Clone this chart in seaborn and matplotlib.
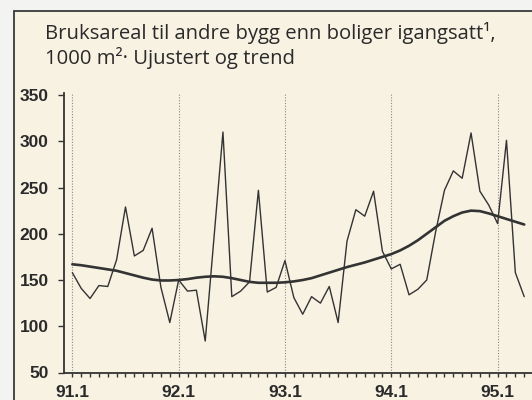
import numpy as np
import pandas as pd
import matplotlib
matplotlib.use("Agg")
import matplotlib.pyplot as plt
from matplotlib.patches import Rectangle
import seaborn as sns

# Monthly data, 91.1 .. 95.4 (1000 m2)
unadjusted = [158, 141, 130, 144, 143, 172, 229, 176, 182, 206, 142, 104,
              150, 138, 139, 84, 197, 310, 132, 138, 148, 247, 137, 142,
              171, 131, 113, 132, 125, 143, 104, 192, 226, 219, 246, 181,
              162, 167, 134, 140, 150, 202, 247, 268, 260, 309, 246, 231,
              211, 301, 158, 132]
trend = [167, 166, 164.5, 163, 161.5, 160, 157.5, 155, 152.5, 150.5, 149.5, 149.5,
         150, 151, 152.5, 153.5, 154, 153.5, 152, 150, 148, 147, 147, 147,
         147.5, 148.5, 150, 152, 155, 158, 161, 164, 166.5, 169, 172, 175,
         178, 182, 187, 193, 200, 207, 214, 219, 223, 225, 224.5, 222,
         219, 216, 213, 210]
year_labels = ["91.1", "92.1", "93.1", "94.1", "95.1"]
y_ticks = [50, 100, 150, 200, 250, 300, 350]

df = pd.DataFrame({"month": np.arange(len(unadjusted)),
                   "Ujustert": unadjusted, "Trend": trend})

sns.set_style("white")
plt.rcParams['font.family'] = ['Liberation Sans', 'DejaVu Sans']

W, H = 532, 400
fig = plt.figure(figsize=(W / 100, H / 100), dpi=100)
fig.patch.set_facecolor("#f3f3f1")

# outer frame of the figure box
frame = Rectangle((14 / W, -0.1), 1.2, (H - 11) / H + 0.1, transform=fig.transFigure,
                  facecolor="#f8f2e3", edgecolor="#3a3a3a", linewidth=1.3, zorder=-10)
fig.patches.append(frame)

ax = fig.add_axes([64 / W, (H - 372.5) / H, (W - 64) / W, (372.5 - 93) / H])
ax.set_facecolor("none")
ax.set_zorder(5)

line_col = "#333333"
sns.lineplot(data=df, x="month", y="Ujustert", ax=ax, color=line_col, linewidth=1.0)
sns.lineplot(data=df, x="month", y="Trend", ax=ax, color=line_col, linewidth=1.9)

for k in range(len(year_labels)):
    ax.axvline(12 * k, color="#8a8a8a", linestyle=(0, (1, 1.5)), linewidth=0.8, zorder=0)

ax.set_xlim(-0.94, 51.88)
ax.set_ylim(50, 352.2)
ax.set_xticks([12 * k for k in range(len(year_labels))])
ax.set_xticklabels(year_labels)
ax.set_xticks(np.arange(0, 52), minor=True)
ax.set_yticks(y_ticks)
ax.set_yticklabels([str(v) for v in y_ticks])
ax.set_xlabel("")
ax.set_ylabel("")

for s in ["top", "right"]:
    ax.spines[s].set_visible(False)
for s in ["left", "bottom"]:
    ax.spines[s].set_color(line_col)
    ax.spines[s].set_linewidth(1.3)

ax.tick_params(axis="x", which="both", direction="out", length=3, width=1.0,
               color=line_col, bottom=True)
ax.tick_params(axis="x", which="major", labelsize=12.5, pad=6, labelcolor="#2a2a2a")
ax.tick_params(axis="y", which="major", direction="out", length=4, width=1.0,
               color=line_col, left=True, labelsize=12.5, pad=7, labelcolor="#2a2a2a")
for lab in ax.get_xticklabels() + ax.get_yticklabels():
    lab.set_fontweight("bold")

fig.text(45 / W, 1 - 39 / H, "Bruksareal til andre bygg enn boliger igangsatt¹,",
         fontsize=14.6, family=["Open Sans", "DejaVu Sans"], color="#2a2a2a")
fig.text(45 / W, 1 - 64 / H, "1000 m²· Ujustert og trend",
         fontsize=14.6, family=["Open Sans", "DejaVu Sans"], color="#2a2a2a")

fig.savefig("out.png", dpi=100, facecolor=fig.get_facecolor())
